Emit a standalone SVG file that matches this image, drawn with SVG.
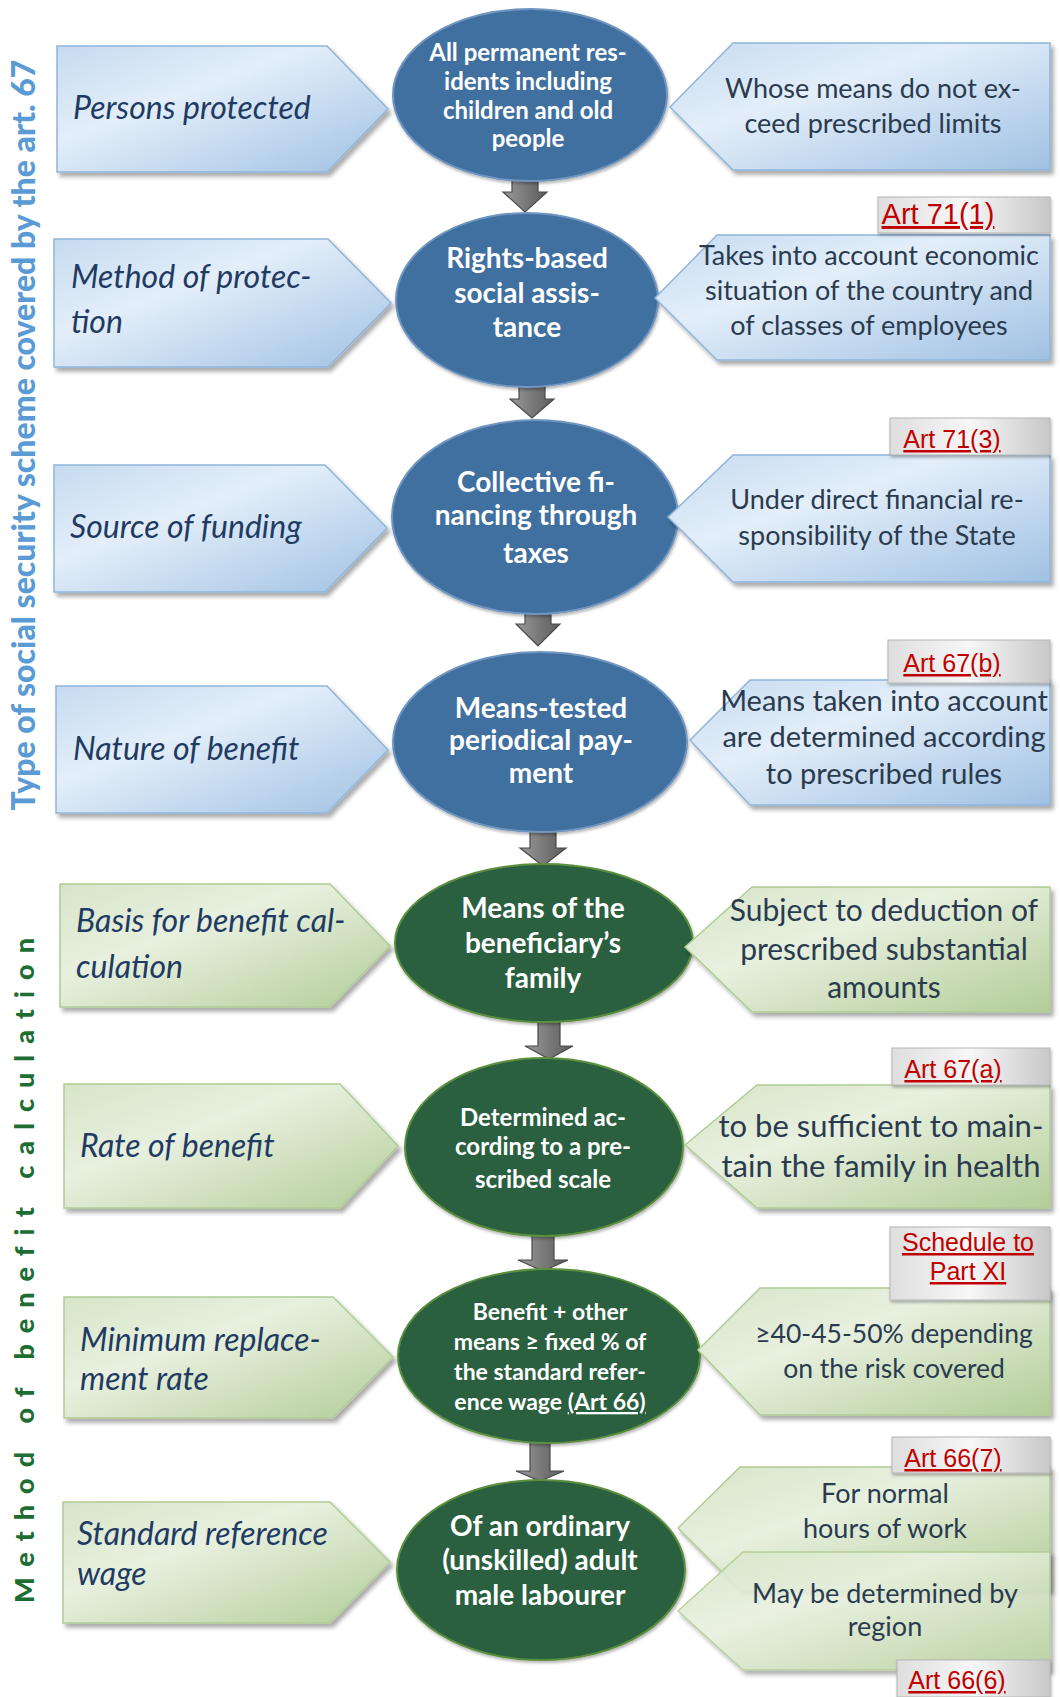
<svg xmlns="http://www.w3.org/2000/svg" width="1060" height="1697" viewBox="0 0 1060 1697">
<defs>
<linearGradient id="gBlue" x1="0" y1="0" x2="1" y2="1">
<stop offset="0" stop-color="#c6dbf0"/><stop offset="0.38" stop-color="#e3eef9"/><stop offset="1" stop-color="#a0c1e3"/>
</linearGradient>
<linearGradient id="gGreen" x1="0" y1="0" x2="1" y2="1">
<stop offset="0" stop-color="#d6e5c8"/><stop offset="0.38" stop-color="#e8f0df"/><stop offset="1" stop-color="#b3cd98"/>
</linearGradient>
<linearGradient id="gGray" x1="0" y1="0" x2="1" y2="0">
<stop offset="0" stop-color="#dedede"/><stop offset="0.5" stop-color="#f7f7f7"/><stop offset="1" stop-color="#c8c8c8"/>
</linearGradient>
<linearGradient id="gArrow" x1="0" y1="0" x2="1" y2="0">
<stop offset="0" stop-color="#9a9a9a"/><stop offset="0.5" stop-color="#7a7a7a"/><stop offset="1" stop-color="#5c5c5c"/>
</linearGradient>
<filter id="sh" x="-10%" y="-10%" width="125%" height="135%">
<feDropShadow dx="3" dy="4" stdDeviation="2" flood-color="#000" flood-opacity="0.33"/>
</filter>
<filter id="shs" x="-10%" y="-10%" width="125%" height="135%">
<feDropShadow dx="1" dy="2" stdDeviation="1.5" flood-color="#000" flood-opacity="0.3"/>
</filter>
</defs>
<style>
.pb { fill: url(#gBlue); stroke: #8fb5dc; stroke-width: 1.5; filter: url(#sh); }
.pg { fill: url(#gGreen); stroke: #b0cc95; stroke-width: 1.5; filter: url(#sh); }
.eb { fill: #41709f; stroke: #6f95bf; stroke-width: 2; filter: url(#shs); }
.eg { fill: #2a5f40; stroke: #5b8f3e; stroke-width: 2; filter: url(#shs); }
.ab { fill: url(#gGray); stroke: #b5b5b5; stroke-width: 1; filter: url(#shs); }
.arr { fill: url(#gArrow); stroke: #4a4a4a; stroke-width: 1.2; }
.lt { font-family: Lato, "Liberation Sans", sans-serif; font-style: italic; font-size: 32px; fill: #1f3b63; }
.rt { font-family: Lato, "Liberation Sans", sans-serif; font-size: 27px; fill: #2a3b4f; text-anchor: middle; }
.et { font-family: Lato, "Liberation Sans", sans-serif; font-weight: bold; fill: #ffffff; text-anchor: middle; }
.art { font-family: "Liberation Sans", Arial, sans-serif; font-size: 25px; fill: #c00000; text-decoration: underline; text-anchor: middle; }
.vb { font-family: Lato, "Liberation Sans", sans-serif; font-weight: 900; font-size: 32px; fill: #5b9bd5; text-anchor: middle; }
.vg { font-family: Lato, "Liberation Sans", sans-serif; font-weight: 900; font-size: 27px; fill: #1e6e34; letter-spacing: 11px; }
</style>
<rect width="1060" height="1697" fill="#ffffff"/>

<g id="side-labels">
<text class="vb" transform="translate(35,435) rotate(-90)">Type of social security scheme covered by the art. 67</text>
<text class="vg" transform="translate(34,1603) rotate(-90)">Method of benefit calculation</text>
</g>

<g id="connectors">
<path class="arr" d="M512,176 L538,176 L538,192 L547,192 L525,212 L503,192 L512,192 Z"/>
<path class="arr" d="M519,382 L545,382 L545,399 L554,399 L532,418 L510,399 L519,399 Z"/>
<path class="arr" d="M525,608 L551,608 L551,624 L560,624 L538,646 L516,624 L525,624 Z"/>
<path class="arr" d="M530,828 L556,828 L556,848 L566,848 L543,866 L520,848 L530,848 Z"/>
<path class="arr" d="M538,1018 L560,1018 L560,1046 L573,1046 L549,1059 L525,1046 L538,1046 Z"/>
<path class="arr" d="M532,1231 L554,1231 L554,1260 L568,1260 L543,1271 L518,1260 L532,1260 Z"/>
<path class="arr" d="M530,1440 L550,1440 L550,1471 L564,1471 L540,1481 L516,1471 L530,1471 Z"/>
</g>

<g id="e1"><ellipse class="eb" cx="530" cy="95" rx="137" ry="86"/>
<text class="et" style="font-size:24px"><tspan x="528" y="61">All permanent res-</tspan><tspan x="528" y="90">idents including</tspan><tspan x="528" y="119">children and old</tspan><tspan x="528" y="147">people</tspan></text></g>
<g id="e2"><ellipse class="eb" cx="527" cy="300" rx="131" ry="87"/>
<text class="et" style="font-size:28px"><tspan x="527" y="268">Rights-based</tspan><tspan x="527" y="303">social assis-</tspan><tspan x="527" y="337">tance</tspan></text></g>
<g id="e3"><ellipse class="eb" cx="535" cy="517" rx="143" ry="97"/>
<text class="et" style="font-size:28px"><tspan x="536" y="492">Collective fi-</tspan><tspan x="536" y="525">nancing through</tspan><tspan x="536" y="563">taxes</tspan></text></g>
<g id="e4"><ellipse class="eb" cx="540" cy="742" rx="147" ry="90"/>
<text class="et" style="font-size:28px"><tspan x="541" y="718">Means-tested</tspan><tspan x="541" y="750">periodical pay-</tspan><tspan x="541" y="783">ment</tspan></text></g>
<g id="e5"><ellipse class="eg" cx="544" cy="943" rx="149" ry="79"/>
<text class="et" style="font-size:28px"><tspan x="543" y="918">Means of the</tspan><tspan x="543" y="953">beneficiary’s</tspan><tspan x="543" y="988">family</tspan></text></g>
<g id="e6"><ellipse class="eg" cx="544" cy="1147" rx="139" ry="89"/>
<text class="et" style="font-size:24px"><tspan x="543" y="1126">Determined ac-</tspan><tspan x="543" y="1155">cording to a pre-</tspan><tspan x="543" y="1188">scribed scale</tspan></text></g>
<g id="e7"><ellipse class="eg" cx="549" cy="1356" rx="151" ry="87"/>
<text class="et" style="font-size:23px"><tspan x="550" y="1320">Benefit + other</tspan><tspan x="550" y="1350">means ≥ fixed % of</tspan><tspan x="550" y="1380">the standard refer-</tspan><tspan x="550" y="1410">ence wage <tspan text-decoration="underline">(Art 66)</tspan></tspan></text></g>
<g id="e8"><ellipse class="eg" cx="541" cy="1570" rx="144" ry="90"/>
<text class="et" style="font-size:28px"><tspan x="540" y="1536">Of an ordinary</tspan><tspan x="540" y="1570">(unskilled) adult</tspan><tspan x="540" y="1605">male labourer</tspan></text></g>

<g id="l1"><path class="pb" d="M57,46 L327,46 L388,109 L327,172 L57,172 Z"/>
<text class="lt" x="73" y="119">Persons protected</text></g>
<g id="l2"><path class="pb" d="M54,239 L328,239 L391,303 L328,367 L54,367 Z"/>
<text class="lt"><tspan x="71" y="288">Method of protec-</tspan><tspan x="71" y="333">tion</tspan></text></g>
<g id="l3"><path class="pb" d="M54,465 L325,465 L387,528 L325,592 L54,592 Z"/>
<text class="lt" x="70" y="538">Source of funding</text></g>
<g id="l4"><path class="pb" d="M56,686 L327,686 L388,750 L327,813 L56,813 Z"/>
<text class="lt" x="73" y="760">Nature of benefit</text></g>
<g id="l5"><path class="pg" d="M60,884 L330,884 L390,946 L330,1007 L60,1007 Z"/>
<text class="lt"><tspan x="76" y="932">Basis for benefit cal-</tspan><tspan x="76" y="978">culation</tspan></text></g>
<g id="l6"><path class="pg" d="M64,1084 L340,1084 L398,1146 L340,1208 L64,1208 Z"/>
<text class="lt" x="80" y="1157">Rate of benefit</text></g>
<g id="l7"><path class="pg" d="M64,1297 L333,1297 L393,1357 L333,1418 L64,1418 Z"/>
<text class="lt"><tspan x="80" y="1351">Minimum replace-</tspan><tspan x="80" y="1390">ment rate</tspan></text></g>
<g id="l8"><path class="pg" d="M63,1502 L330,1502 L390,1562 L330,1623 L63,1623 Z"/>
<text class="lt"><tspan x="77" y="1545">Standard reference</tspan><tspan x="77" y="1585">wage</tspan></text></g>

<g id="r1"><path class="pb" d="M670,107 L733,43 L1050,43 L1050,170 L733,170 Z"/>
<text class="rt"><tspan x="873" y="98">Whose means do not ex-</tspan><tspan x="873" y="133">ceed prescribed limits</tspan></text></g>
<g id="r2"><path class="pb" d="M655,298 L717,235 L1050,235 L1050,360 L717,360 Z"/>
<text class="rt"><tspan x="869" y="265">Takes into account economic</tspan><tspan x="869" y="300">situation of the country and</tspan><tspan x="869" y="335">of classes of employees</tspan></text></g>
<g id="r3"><path class="pb" d="M668,517 L733,455 L1050,455 L1050,582 L733,582 Z"/>
<text class="rt"><tspan x="877" y="509">Under direct financial re-</tspan><tspan x="877" y="545">sponsibility of the State</tspan></text></g>
<g id="r4"><path class="pb" d="M690,740 L750,680 L1050,680 L1050,805 L750,805 Z"/>
<text class="rt" style="font-size:29px"><tspan x="884" y="711">Means taken into account</tspan><tspan x="884" y="747">are determined according</tspan><tspan x="884" y="784">to prescribed rules</tspan></text></g>
<g id="r5"><path class="pg" d="M685,947 L752,887 L1050,887 L1050,1012 L752,1012 Z"/>
<text class="rt" style="font-size:30px"><tspan x="884" y="921">Subject to deduction of</tspan><tspan x="884" y="960">prescribed substantial</tspan><tspan x="884" y="998">amounts</tspan></text></g>
<g id="r6"><path class="pg" d="M685,1145 L757,1085 L1050,1085 L1050,1208 L757,1208 Z"/>
<text class="rt" style="font-size:31px"><tspan x="881" y="1137">to be sufficient to main-</tspan><tspan x="881" y="1177">tain the family in health</tspan></text></g>
<g id="r7"><path class="pg" d="M698,1350 L760,1288 L1050,1288 L1050,1415 L760,1415 Z"/>
<text class="rt" style="font-size:26.5px"><tspan x="894" y="1343">≥40-45-50% depending</tspan><tspan x="894" y="1378">on the risk covered</tspan></text></g>
<g id="r8a"><path class="pg" d="M678,1528 L740,1467 L1050,1467 L1050,1590 L740,1590 Z"/>
<text class="rt"><tspan x="885" y="1503">For normal</tspan><tspan x="885" y="1538">hours of work</tspan></text></g>
<g id="r8b"><path class="pg" opacity="0.9" d="M678,1611 L743,1552 L1050,1552 L1050,1670 L743,1670 Z"/>
<text class="rt"><tspan x="885" y="1603">May be determined by</tspan><tspan x="885" y="1636">region</tspan></text></g>

<g id="art71-1"><rect class="ab" x="878" y="197" width="172" height="36"/><text class="art" x="938" y="224" style="font-size:29px">Art 71(1)</text></g>
<g id="art71-3"><rect class="ab" x="890" y="418" width="160" height="37"/><text class="art" x="952" y="448">Art 71(3)</text></g>
<g id="art67-b"><rect class="ab" x="888" y="640" width="162" height="43"/><text class="art" x="952" y="672">Art 67(b)</text></g>
<g id="art67-a"><rect class="ab" x="892" y="1048" width="158" height="37"/><text class="art" x="953" y="1078">Art 67(a)</text></g>
<g id="schedule"><rect class="ab" x="890" y="1227" width="160" height="73"/><text class="art"><tspan x="968" y="1251">Schedule to</tspan><tspan x="968" y="1280">Part XI</tspan></text></g>
<g id="art66-7"><rect class="ab" x="892" y="1437" width="158" height="36"/><text class="art" x="953" y="1467">Art 66(7)</text></g>
<g id="art66-6"><rect class="ab" x="897" y="1660" width="153" height="37"/><text class="art" x="957" y="1689">Art 66(6)</text></g>
</svg>
